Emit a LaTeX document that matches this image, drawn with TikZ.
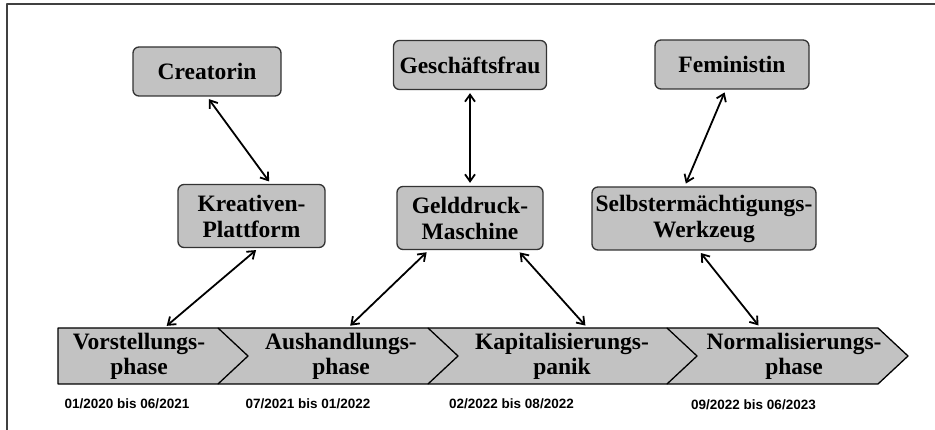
\documentclass[tikz,border=0pt]{standalone}
\usepackage{fontspec}
\setmainfont{Liberation Serif}
\newfontfamily\datumfont{Liberation Sans}
\usetikzlibrary{arrows.meta}
\definecolor{grau}{gray}{0.76}

\begin{document}
\begin{tikzpicture}[
  x=1pt, y=-1pt,
  line cap=round, line join=round,
  >={Straight Barb[length=7pt,width=10pt]},
  kasten/.style={draw=black!80, line width=1.3pt, fill=grau, rounded corners=6pt,
    align=center, inner sep=0pt, font=\fontsize{23.5pt}{26pt}\selectfont\bfseries},
  rolle/.style={kasten, minimum height=49pt},
  bild/.style={kasten, minimum height=63pt},
  abschnitt/.style={align=center, inner sep=0pt, minimum width=150pt, minimum height=56pt,
    font=\fontsize{23.5pt}{25pt}\selectfont\bfseries},
  datum/.style={font=\datumfont\fontsize{13.5pt}{15pt}\selectfont\bfseries},
  pfeil/.style={<->, line width=1.8pt, shorten <=3pt, shorten >=3pt}
]
\useasboundingbox (0,0) rectangle (935,430);
% Rahmen
\draw[black!75, line width=1.5pt] (7,430) -- (7,4) -- (935,4);

% Rollen
\node[rolle, minimum width=148pt] (creatorin) at (207,71.5) {Creatorin};
\node[rolle, minimum width=153pt] (geschaeft) at (470,65) {Geschäftsfrau};
\node[rolle, minimum width=154pt] (feministin) at (732,64.5) {Feministin};

% Bilder
\node[bild, minimum width=147pt] (kreativ) at (251.5,216) {Kreativen-\\Plattform};
\node[bild, minimum width=146pt] (geld) at (470,218) {Gelddruck-\\Maschine};
\node[bild, minimum width=224pt] (selbst) at (704,218.5) {Selbstermächtigungs-\\Werkzeug};

% Phasenband
\fill[grau] (58,328) -- (878,328) -- (908,356) -- (878,384) -- (58,384) -- cycle;
\draw[line width=1.3pt] (58,328) -- (878,328) -- (908,356) -- (878,384) -- (58,384) -- cycle;
\foreach \sx in {218,428,667}
  \draw[line width=1.3pt] (\sx,328) -- ({\sx+30},356) -- (\sx,384);

\node[abschnitt] (vor) at (139,356) {Vorstellungs-\\phase};
\node[abschnitt] (aus) at (341,356) {Aushandlungs-\\phase};
\node[abschnitt] (kap) at (562,356) {Kapitalisierungs-\\panik};
\node[abschnitt] (norm) at (794,356) {Normalisierungs-\\phase};

% Zeitraeume
\node[datum] (d1) at (127,404) {01/2020 bis 06/2021};
\node[datum] (d2) at (308,404) {07/2021 bis 01/2022};
\node[datum] (d3) at (511.5,404) {02/2022 bis 08/2022};
\node[datum] (d4) at (753.5,405) {09/2022 bis 06/2023};

% Pfeile
\foreach \von/\nach in {creatorin.south/kreativ.59, kreativ.-78/vor.48,
    geschaeft.south/geld.north, geld.218/aus.76, geld.-34/kap.48,
    feministin.-104/selbst.121, selbst.-99/norm.140}
  \draw[pfeil] (\von) -- (\nach);
\end{tikzpicture}
\end{document}
